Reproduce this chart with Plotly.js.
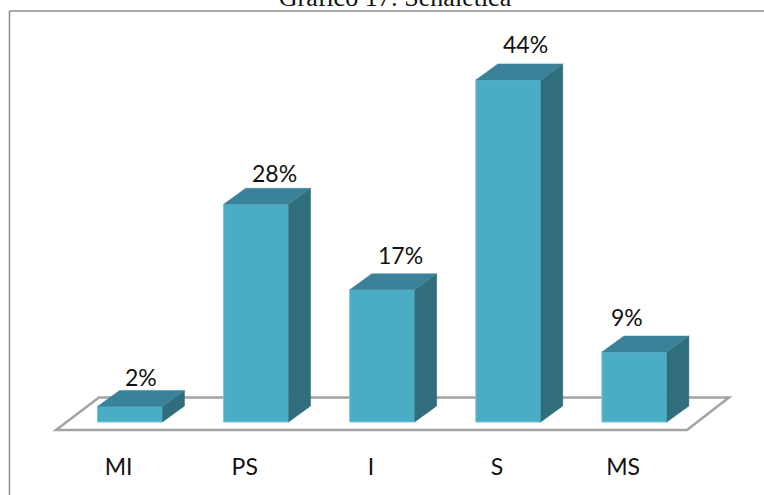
<!DOCTYPE html>
<html>
<head>
<meta charset="utf-8">
<script src="https://cdn.plot.ly/plotly-3.0.1.min.js"></script>
<style>html,body{margin:0;padding:0;background:#fff}#chart{width:764px;height:495px}</style>
</head>
<body>
<div id="chart"></div>
<script>
const categories = ['MI', 'PS', 'I', 'S', 'MS'];
const percents = [2, 28, 17, 44, 9];

// Small per-label nudges for the value labels, in pixels
const labelShiftX = [11, 18, 18, 17, -7];
const labelShiftY = [29, 31, 35, 36, 35];

// Oblique projection used to fake depth on the bars
const barWidth = 0.515;
const depthX = 0.1745;
const depthY = 2.06;

const idx = categories.map((_, i) => i);
const topX = [], topY = [], sideX = [], sideY = [];
idx.forEach(i => {
  const l = i - barWidth / 2, r = i + barWidth / 2, v = percents[i];
  topX.push(l, r, r + depthX, l + depthX, l, null);
  topY.push(v, v, v + depthY, v + depthY, v, null);
  sideX.push(r, r + depthX, r + depthX, r, r, null);
  sideY.push(0, depthY, v + depthY, v, 0, null);
});

const traces = [
  {
    type: 'bar', x: idx, y: percents, width: barWidth,
    marker: {color: '#4bacc6', line: {color: '#74c4d9', width: 1}},
    hoverinfo: 'skip'
  },
  {
    type: 'scatter', mode: 'lines', x: sideX, y: sideY, fill: 'toself',
    fillcolor: '#306e7e', line: {color: '#306e7e', width: 0.5}, hoverinfo: 'skip'
  },
  {
    type: 'scatter', mode: 'lines', x: topX, y: topY, fill: 'toself',
    fillcolor: '#398299', line: {color: '#398299', width: 0.5}, hoverinfo: 'skip'
  }
];

const annotations = idx.map(i => ({
  x: i, y: percents[i], xref: 'x', yref: 'y',
  text: percents[i] + '%', showarrow: false,
  xanchor: 'center', yanchor: 'middle',
  xshift: labelShiftX[i], yshift: labelShiftY[i],
  font: {family: 'Lato, sans-serif', size: 23, color: '#111'}
}));

const frameColor = '#8c8c8c';
const shapes = [
  // Floor plane under the bars
  {
    type: 'path', layer: 'below', xref: 'x', yref: 'y',
    path: 'M -0.587 -1.03 L 4.417 -1.03 L 4.75 3.15 L -0.246 3.15 Z',
    fillcolor: '#ffffff', line: {color: '#a3a3a3', width: 2.5}
  },
  // Outer frame: top and left edges
  {type: 'line', xref: 'paper', yref: 'paper', x0: 0.0124, x1: 1, y0: 0.9756, y1: 0.9756, line: {color: frameColor, width: 1.5}},
  {type: 'line', xref: 'paper', yref: 'paper', x0: 0.0124, x1: 0.0124, y0: 0.9756, y1: -0.1, line: {color: frameColor, width: 1.5}}
];

const layout = {
  width: 764, height: 495,
  margin: {l: 0, r: 0, t: 0, b: 45},
  paper_bgcolor: '#ffffff', plot_bgcolor: 'rgba(0,0,0,0)',
  showlegend: false,
  title: {
    text: 'Gráfico 17: Señalética',
    font: {family: 'Liberation Serif, serif', size: 26, color: '#111'},
    x: 0.517, xanchor: 'center', y: 0.988, yanchor: 'bottom'
  },
  xaxis: {
    range: [-1.0309, 5.0278], tickvals: idx.map(i => i - 0.09), ticktext: categories,
    showgrid: false, zeroline: false, showline: false, ticks: '', fixedrange: true,
    ticklabelstandoff: 1,
    tickfont: {family: 'Lato, sans-serif', size: 23, color: '#111'}
  },
  yaxis: {
    range: [-3.601, 54.277], visible: false, showgrid: false, zeroline: false, fixedrange: true
  },
  annotations, shapes
};

Plotly.newPlot('chart', traces, layout, {displayModeBar: false, staticPlot: true});
</script>
</body>
</html>
